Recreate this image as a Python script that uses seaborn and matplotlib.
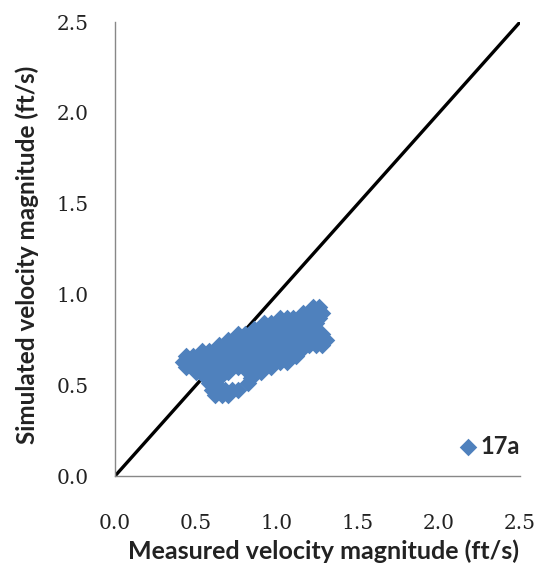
import pandas as pd
import seaborn as sns
import matplotlib.pyplot as plt

# measured vs simulated velocity, station 17a (read off the blob row by row)
row_simulated = [0.93, 0.90, 0.87, 0.84, 0.81, 0.78, 0.75, 0.72, 0.69,
                 0.66, 0.63, 0.60, 0.57, 0.54, 0.51, 0.475, 0.445]
row_measured = [
    [1.22, 1.26],
    [1.16, 1.20, 1.24, 1.28],
    [1.02, 1.06, 1.10, 1.14, 1.18, 1.22, 1.26],
    [0.92, 0.96, 1.00, 1.04, 1.08, 1.12, 1.16, 1.20, 1.24],
    [0.86, 0.90, 0.94, 0.98, 1.02, 1.06, 1.10, 1.14, 1.18, 1.22],
    [0.76, 0.80, 0.84, 0.88, 0.92, 0.96, 1.00, 1.04, 1.08, 1.12, 1.16, 1.20, 1.24, 1.28],
    [0.70, 0.74, 0.78, 0.82, 0.86, 0.90, 0.94, 0.98, 1.02, 1.06, 1.10, 1.14, 1.18, 1.22, 1.26, 1.30],
    [0.64, 0.68, 0.72, 0.76, 0.80, 0.84, 0.88, 0.92, 0.96, 1.00, 1.04, 1.08, 1.12, 1.16, 1.20, 1.24, 1.28],
    [0.54, 0.58, 0.62, 0.66, 0.70, 0.74, 0.78, 0.82, 0.86, 0.90, 0.94, 0.98, 1.02, 1.06, 1.10, 1.14],
    [0.44, 0.48, 0.52, 0.56, 0.60, 0.64, 0.68, 0.72, 0.76, 0.80, 0.84, 0.88, 0.92, 0.96, 1.00, 1.04, 1.08, 1.12],
    [0.42, 0.46, 0.50, 0.54, 0.58, 0.62, 0.66, 0.70, 0.74, 0.78, 0.82, 0.86, 0.90, 0.94, 0.98, 1.02, 1.06],
    [0.44, 0.48, 0.52, 0.56, 0.60, 0.64, 0.68, 0.72, 0.76, 0.80, 0.84, 0.88, 0.92, 0.96],
    [0.50, 0.54, 0.58, 0.62, 0.66, 0.70, 0.82, 0.86, 0.90],
    [0.56, 0.60, 0.64, 0.84],
    [0.58, 0.62, 0.82],
    [0.60, 0.64, 0.68, 0.72, 0.76],
    [0.62, 0.66, 0.70],
]
line_x = [0.0, 2.5]
ticks = [0.0, 0.5, 1.0, 1.5, 2.0, 2.5]

rows = []
for ys, xs in zip(row_simulated, row_measured):
    for xv in xs:
        rows.append({'measured': xv, 'simulated': ys})
df = pd.DataFrame(rows)

sns.set_style('white')
fig = plt.figure(figsize=(5.43, 5.66), dpi=100)
ax = fig.add_axes([0.2118, 0.159, 0.7459, 0.8021])

ax.plot(line_x, line_x, color='black', linewidth=2.4, zorder=1)
sns.scatterplot(data=df, x='measured', y='simulated', marker='D', s=80,
                color='#4F81BD', linewidth=0, label='17a', ax=ax, zorder=2)

ax.set_xlim(0, 2.5)
ax.set_ylim(0, 2.5)
ax.set_xticks(ticks)
ax.set_yticks(ticks)
ax.set_xticklabels([f'{t:.1f}' for t in ticks], family='DejaVu Serif', fontsize=14.5)
ax.set_yticklabels([f'{t:.1f}' for t in ticks], family='DejaVu Serif', fontsize=14.5)
ax.tick_params(axis='x', length=0, pad=27, colors='#222222')
ax.tick_params(axis='y', length=0, pad=19, colors='#222222')

for side in ['top', 'right']:
    ax.spines[side].set_visible(False)
for side in ['left', 'bottom']:
    ax.spines[side].set_color('#888888')
    ax.spines[side].set_linewidth(1.0)

ax.set_xlabel('Measured velocity magnitude (ft/s)', family='Lato',
              fontweight='bold', fontsize=18, color='#222222', va='center')
ax.set_ylabel('Simulated velocity magnitude (ft/s)', family='Lato',
              fontweight='bold', fontsize=17.5, color='#222222', va='center')
ax.xaxis.set_label_coords(0.515, -0.166)
ax.yaxis.set_label_coords(-0.217, 0.488)

leg = ax.legend(loc='center left', bbox_to_anchor=(0.847, 0.066), frameon=False,
                borderpad=0, borderaxespad=0, handlelength=0.8, handletextpad=0.17,
                prop={'family': 'Lato', 'weight': 'bold', 'size': 17})

fig.savefig('out.png', dpi=100)
